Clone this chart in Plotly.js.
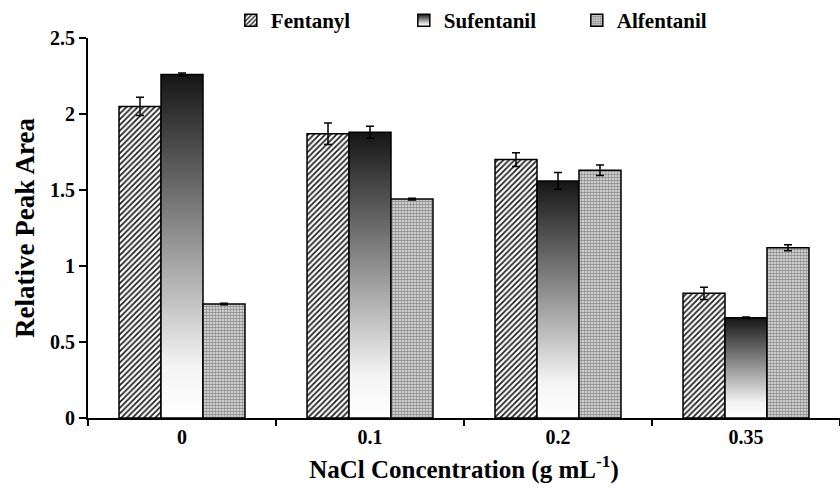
<!DOCTYPE html>
<html><head><meta charset="utf-8">
<script src="https://cdn.plot.ly/plotly-3.0.1.min.js"></script>
<style>html,body{margin:0;padding:0;background:#fff}</style>
</head><body>
<div id="chart" style="width:840px;height:490px"></div>
<script>
const categories = ['0', '0.1', '0.2', '0.35'];
const seriesNames = ['Fentanyl', 'Sufentanil', 'Alfentanil'];
const fentanyl = [2.05, 1.87, 1.70, 0.82];
const fentanylErr = [0.06, 0.07, 0.045, 0.04];
const sufentanil = [2.26, 1.88, 1.56, 0.66];
const sufentanilErr = [0.01, 0.04, 0.055, 0.005];
const alfentanil = [0.75, 1.44, 1.63, 1.12];
const alfentanilErr = [0.005, 0.005, 0.035, 0.02];
const yTicks = [0, 0.5, 1, 1.5, 2, 2.5];
const yTickLabels = ['0', '0.5', '1', '1.5', '2', '2.5'];

const fontFam = 'Liberation Serif, Times New Roman, serif';
const errStyle = {type: 'data', visible: true, color: '#000', thickness: 1.5, width: 4};
const line = {color: '#000', width: 1.5};

const traces = [
  {type: 'bar', name: seriesNames[0], x: categories, y: fentanyl,
   error_y: Object.assign({array: fentanylErr}, errStyle),
   marker: {color: '#fff', line: line,
     pattern: {shape: '/', fgcolor: '#222', bgcolor: '#fff', size: 4, solidity: 0.45}}},
  {type: 'bar', name: seriesNames[1], x: categories, y: sufentanil,
   error_y: Object.assign({array: sufentanilErr}, errStyle),
   marker: {color: '#777', line: line}},
  {type: 'bar', name: seriesNames[2], x: categories, y: alfentanil,
   error_y: Object.assign({array: alfentanilErr}, errStyle),
   marker: {color: '#fff', line: line,
     pattern: {shape: '.', fgcolor: '#8a8a8a', bgcolor: '#e8e8e8', size: 3, solidity: 0.55}}}
];

const layout = {
  width: 840, height: 490,
  margin: {l: 88, r: 0, t: 37, b: 72},
  paper_bgcolor: '#fff', plot_bgcolor: '#fff',
  barmode: 'group', bargap: 0.33, bargroupgap: 0,
  font: {family: fontFam, color: '#000'},
  showlegend: true,
  legend: {orientation: 'h', x: 0.535, xanchor: 'center', y: 1.1, yanchor: 'top',
    font: {family: fontFam, size: 21, weight: 'bold', color: '#000'},
    entrywidth: 128, entrywidthmode: 'pixels', itemwidth: 30, traceorder: 'normal'},
  xaxis: {type: 'category', showline: true, linecolor: '#000', linewidth: 2,
    ticks: 'outside', tickson: 'boundaries', ticklen: 6, tickwidth: 2, tickcolor: '#000',
    showgrid: false, zeroline: false,
    tickfont: {family: fontFam, size: 20, weight: 'bold'},
    title: {text: 'NaCl Concentration (g mL<sup>-1</sup>)', standoff: 13,
      font: {family: fontFam, size: 25, weight: 'bold'}}},
  yaxis: {range: [0, 2.5], tickvals: yTicks, ticktext: yTickLabels,
    showline: true, linecolor: '#000', linewidth: 2,
    ticks: 'outside', ticklen: 7, tickwidth: 2, tickcolor: '#000',
    showgrid: false, zeroline: false,
    tickfont: {family: fontFam, size: 20, weight: 'bold'},
    title: {text: 'Relative Peak Area', standoff: 8,
      font: {family: fontFam, size: 27, weight: 'bold'}}}
};

Plotly.newPlot('chart', traces, layout, {displayModeBar: false, staticPlot: true}).then(function (gd) {
  const svg = gd.querySelector('svg.main-svg');
  const ns = 'http://www.w3.org/2000/svg';
  let defs = svg.querySelector('defs');
  if (!defs) { defs = document.createElementNS(ns, 'defs'); svg.insertBefore(defs, svg.firstChild); }
  const grad = document.createElementNS(ns, 'linearGradient');
  grad.setAttribute('id', 'sufGrad');
  grad.setAttribute('x1', '0'); grad.setAttribute('y1', '0');
  grad.setAttribute('x2', '0'); grad.setAttribute('y2', '1');
  [['0', '#151515'], ['0.45', '#8a8a8a'], ['0.85', '#f4f4f4'], ['1', '#ffffff']].forEach(function (s) {
    const st = document.createElementNS(ns, 'stop');
    st.setAttribute('offset', s[0]); st.setAttribute('stop-color', s[1]);
    grad.appendChild(st);
  });
  defs.appendChild(grad);
  const barTraces = gd.querySelectorAll('.barlayer .trace.bars');
  if (barTraces[1]) barTraces[1].querySelectorAll('.point path').forEach(function (p) {
    p.style.fill = 'url(#sufGrad)';
  });
  const legTraces = gd.querySelectorAll('.legend .traces');
  if (legTraces[1]) legTraces[1].querySelectorAll('.legendpoints path').forEach(function (p) {
    p.style.fill = 'url(#sufGrad)';
  });
});
</script>
</body></html>
